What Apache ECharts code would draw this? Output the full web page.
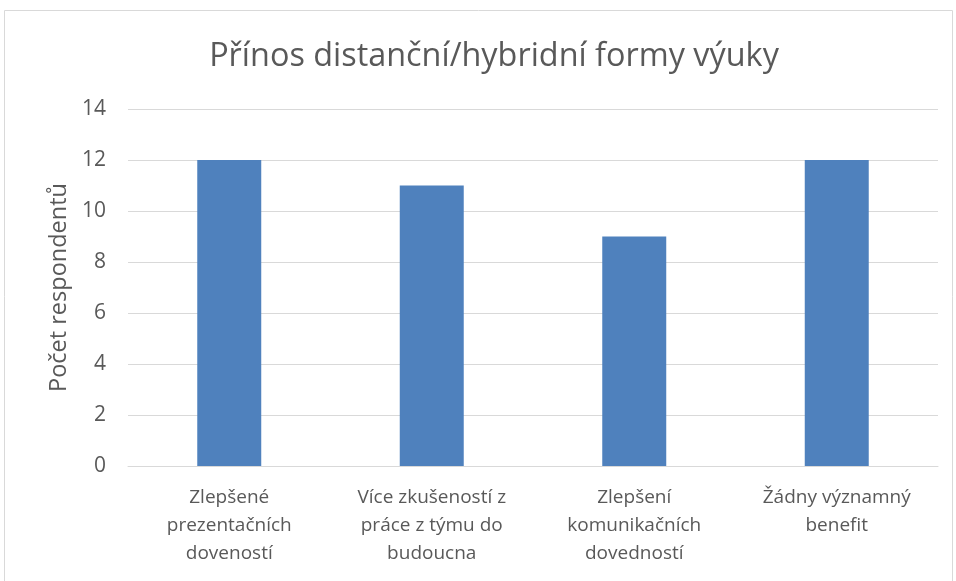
<!DOCTYPE html>
<html>
<head>
<meta charset="utf-8">
<script src="https://cdn.jsdelivr.net/npm/echarts@6/dist/echarts.min.js"></script>
<style>
  html, body { margin: 0; padding: 0; background: #fff; }
  #chart { width: 956px; height: 581px; }
</style>
</head>
<body>
<div id="chart"></div>
<script>
// data
var categories = [
  'Zlepšené\nprezentačních\ndoveností',
  'Více zkušeností z\npráce z týmu do\nbudoucna',
  'Zlepšení\nkomunikačních\ndovedností',
  'Žádny významný\nbenefit'
];
var counts = [12, 11, 9, 12];
var titleText = 'Přínos distanční/hybridní formy výuky';
var yName = 'Počet respondentů';

var font = '"Open Sans", "Noto Sans", sans-serif';
var grey = '#595959';

var chart = echarts.init(document.getElementById('chart'));
chart.setOption({
  animation: false,
  textStyle: { fontFamily: font },
  graphic: [{
    type: 'rect',
    shape: { x: 4.5, y: 10.5, width: 948, height: 580 },
    style: { fill: 'none', stroke: '#d9d9d9', lineWidth: 1 },
    silent: true
  }],
  title: {
    text: titleText,
    left: 489,
    top: 36,
    textAlign: 'center',
    textStyle: { fontFamily: font, fontSize: 32.4, fontWeight: 'normal', color: grey }
  },
  grid: { left: 128, right: 18, top: 109, bottom: 115, containLabel: false },
  xAxis: {
    type: 'category',
    data: categories,
    axisTick: { show: false },
    axisLine: { lineStyle: { color: '#d9d9d9', width: 1 } },
    axisLabel: {
      color: grey, fontSize: 19, fontFamily: font,
      lineHeight: 28, margin: 18, interval: 0
    }
  },
  yAxis: {
    type: 'value',
    min: 0, max: 14, interval: 2,
    name: yName,
    nameLocation: 'middle',
    nameGap: 56,
    nameTextStyle: { color: grey, fontSize: 23.5, fontFamily: font },
    axisLine: { show: false },
    axisTick: { show: false },
    axisLabel: { color: grey, fontSize: 21, fontFamily: font, margin: 22 },
    splitLine: { lineStyle: { color: '#d9d9d9', width: 1 } }
  },
  series: [{
    type: 'bar',
    data: counts,
    barWidth: '31.6%',
    itemStyle: { color: '#4f81bd' }
  }]
});
</script>
</body>
</html>
